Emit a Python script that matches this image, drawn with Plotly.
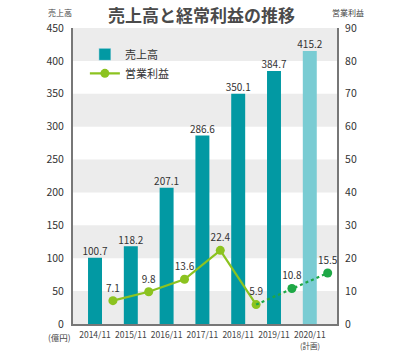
import plotly.graph_objects as go

years = ["2014/11", "2015/11", "2016/11", "2017/11", "2018/11", "2019/11", "2020/11"]
sales = [100.7, 118.2, 207.1, 286.6, 350.1, 384.7, 415.2]
profit = [7.1, 9.8, 13.6, 22.4, 5.9, 10.8, 15.5]
left_ticks = [0, 50, 100, 150, 200, 250, 300, 350, 400, 450]
right_ticks = [0, 10, 20, 30, 40, 50, 60, 70, 80, 90]

FONT = "Noto Sans CJK JP, sans-serif"
TEAL = "#0299A3"
TEAL_LIGHT = "#7ACCD3"
LIME = "#8CC320"
GREEN = "#1EA846"

xs = list(range(len(years)))
xl = [x + 0.5 for x in xs]

fig = go.Figure()

bar_colors = [TEAL] * (len(years) - 1) + [TEAL_LIGHT]
fig.add_trace(go.Bar(
    x=xs, y=sales, name="売上高", marker=dict(color=bar_colors, line=dict(width=0)),
    width=0.39, showlegend=False,
))
fig.add_trace(go.Scatter(
    x=xs, y=sales, mode="text", text=[f"{v:.1f}" for v in sales], textposition="top center",
    textfont=dict(size=10, color="#333", family=FONT), showlegend=False, cliponaxis=False,
))
# legend entry for bar (solid teal)
fig.add_trace(go.Bar(x=[None], y=[None], name="売上高", marker=dict(color=TEAL), showlegend=True))

fig.add_trace(go.Scatter(
    x=xl[:5], y=profit[:5], yaxis="y2", mode="lines+markers+text", name="営業利益",
    line=dict(color=LIME, width=2.2), marker=dict(color=LIME, size=9),
    text=[f"{v:.1f}" for v in profit[:5]], textposition="top center",
    textfont=dict(size=10, color="#333", family=FONT), cliponaxis=False,
))
fig.add_trace(go.Scatter(
    x=xl[4:], y=profit[4:], yaxis="y2", mode="lines", showlegend=False,
    line=dict(color=GREEN, width=2.2, dash="dot"),
))
fig.add_trace(go.Scatter(
    x=xl[5:], y=profit[5:], yaxis="y2", mode="markers+text", showlegend=False,
    marker=dict(color=GREEN, size=9),
    text=[f"{v:.1f}" for v in profit[5:]], textposition="top center",
    textfont=dict(size=10, color="#333", family=FONT), cliponaxis=False,
))

shapes = []
for lo in left_ticks[::2]:
    shapes.append(dict(type="rect", xref="paper", yref="y", x0=0, x1=1, y0=lo, y1=lo + 50,
                       fillcolor="#ECECEC", line=dict(width=0), layer="below"))

fig.update_layout(
    width=400, height=351,
    margin=dict(l=73, r=63, t=28, b=27),
    paper_bgcolor="white", plot_bgcolor="white",
    font=dict(family=FONT, color="#333"),
    shapes=shapes,
    barmode="overlay",
    xaxis=dict(range=[-0.615, 6.76], tickvals=xs, ticktext=years, showgrid=False,
               zeroline=False, showline=True, linecolor="#777", linewidth=2,
               tickangle=0, tickfont=dict(size=8.5, color="#444"), ticks="",
               ticklabelstandoff=2, fixedrange=True),
    yaxis=dict(range=[0, 450], tickvals=left_ticks, showgrid=False, zeroline=False,
               showline=True, linecolor="#777", linewidth=2, ticks="",
               ticklabelstandoff=5, tickfont=dict(size=10.5, color="#333")),
    yaxis2=dict(range=[0, 90], tickvals=right_ticks, overlaying="y", side="right",
                showgrid=False, zeroline=False, showline=True, linecolor="#777",
                linewidth=2, ticks="", ticklabelstandoff=4,
                tickfont=dict(size=10.5, color="#333")),
    legend=dict(x=0.045, y=0.96, xanchor="left", yanchor="top", bgcolor="rgba(0,0,0,0)",
                font=dict(size=11, color="#333", family=FONT), tracegroupgap=4),
    showlegend=True,
    annotations=[
        dict(text="<b>売上高と経常利益の推移</b>", xref="paper", yref="paper", x=0.485, y=1,
             yshift=14, xanchor="center", yanchor="middle", showarrow=False,
             font=dict(size=17, color="#4a4a4a", family=FONT)),
        dict(text="売上高", xref="paper", yref="paper", x=-0.05, y=1, yshift=16,
             xanchor="center", yanchor="middle", showarrow=False, font=dict(size=8, color="#444")),
        dict(text="営業利益", xref="paper", yref="paper", x=1.04, y=1, yshift=16,
             xanchor="center", yanchor="middle", showarrow=False, font=dict(size=8, color="#444")),
        dict(text="(億円)", xref="paper", yref="paper", x=-0.05, y=0, yshift=-13,
             xanchor="center", yanchor="middle", showarrow=False, font=dict(size=8.5, color="#444")),
        dict(text="(計画)", xref="x", yref="paper", x=6, y=0, yshift=-21,
             xanchor="center", yanchor="middle", showarrow=False, font=dict(size=7.5, color="#444")),
    ],
)

fig.write_html("out.html")
